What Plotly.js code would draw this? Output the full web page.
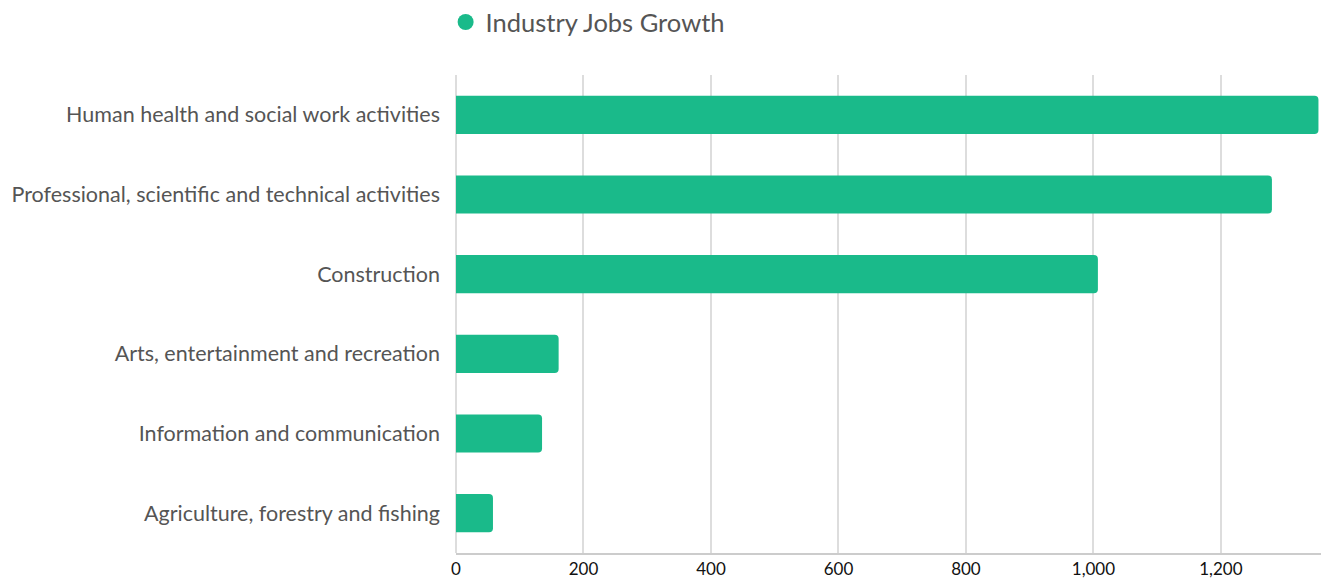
<!DOCTYPE html>
<html>
<head>
<meta charset="utf-8">
<script src="https://cdn.plot.ly/plotly-3.0.1.min.js"></script>
<style>html,body{margin:0;padding:0;background:#fff;}#chart{width:1332px;height:580px;}</style>
</head>
<body>
<div id="chart"></div>
<script>
var categories = [
  "Agriculture, forestry and fishing",
  "Information and communication",
  "Arts, entertainment and recreation",
  "Construction",
  "Professional, scientific and technical activities",
  "Human health and social work activities"
];
var jobsGrowth = [58, 135, 161, 1007, 1280, 1353];
var seriesName = "Industry Jobs Growth";
var xTickValues = [0, 200, 400, 600, 800, 1000, 1200];
var xTickLabels = ["0", "200", "400", "600", "800", "1,000", "1,200"];
var barColor = "#1aba8a";

var data = [
  {
    type: "bar",
    orientation: "h",
    y: categories,
    x: jobsGrowth,
    marker: {color: barColor, cornerradius: 4},
    showlegend: false,
    hoverinfo: "x+y"
  },
  {
    type: "scatter",
    mode: "markers",
    x: [null],
    y: [null],
    name: seriesName,
    marker: {color: barColor, size: 20, symbol: "circle"},
    showlegend: true
  }
];

var layout = {
  width: 1332,
  height: 580,
  margin: {l: 456, r: 11, t: 75, b: 27, autoexpand: false},
  paper_bgcolor: "#ffffff",
  plot_bgcolor: "#ffffff",
  font: {family: "Lato, sans-serif", color: "#555555"},
  bargap: 0.52,
  showlegend: true,
  legend: {
    orientation: "h",
    x: -0.012,
    xanchor: "left",
    y: 1.11,
    yanchor: "middle",
    font: {size: 25.5, color: "#555555", family: "Lato, sans-serif"},
    itemwidth: 30
  },
  xaxis: {
    range: [0, 1357],
    tickvals: xTickValues,
    ticktext: xTickLabels,
    showgrid: true,
    gridcolor: "#dddddd",
    gridwidth: 1.5,
    zeroline: true,
    zerolinecolor: "#dddddd",
    zerolinewidth: 1.5,
    showline: true,
    linecolor: "#cccccc",
    linewidth: 1.5,
    ticks: "",
    ticklabelstandoff: 0,
    tickfont: {size: 17, color: "#111111", family: "Lato, sans-serif"},
    fixedrange: true
  },
  yaxis: {
    type: "category",
    showgrid: false,
    zeroline: false,
    showline: false,
    ticks: "",
    ticklabelstandoff: 15,
    tickfont: {size: 21.5, color: "#555555", family: "Lato, sans-serif"},
    fixedrange: true
  }
};

Plotly.newPlot("chart", data, layout, {displayModeBar: false, staticPlot: false});
</script>
</body>
</html>
